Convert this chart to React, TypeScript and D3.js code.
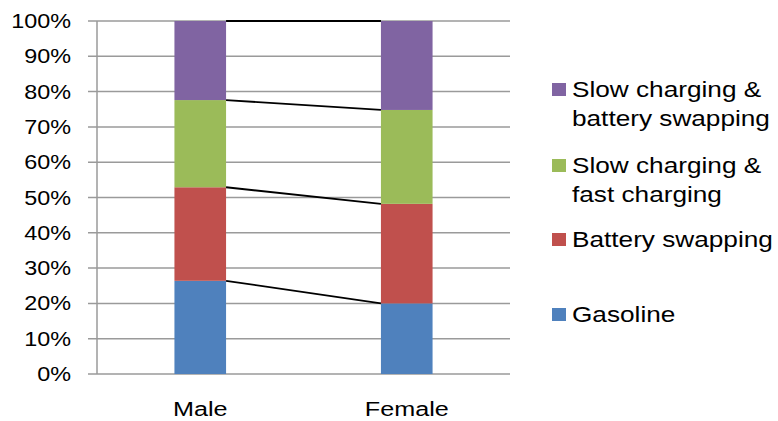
import React from "react";
import * as d3 from "d3";

const categories = ["Male", "Female"];
const seriesNames = [
  "Gasoline",
  "Battery swapping",
  "Slow charging & fast charging",
  "Slow charging & battery swapping",
];
const gasoline = [26.4, 20.0];
const batterySwapping = [26.5, 28.2];
const slowFast = [24.7, 26.6];
const slowSwap = [22.4, 25.2];
const yTicks = [0, 10, 20, 30, 40, 50, 60, 70, 80, 90, 100];
const colors = ["#4F81BD", "#C0504D", "#9BBB59", "#8064A2"];
const legendLines: string[][] = [
  ["Slow charging &", "battery swapping"],
  ["Slow charging &", "fast charging"],
  ["Battery swapping"],
  ["Gasoline"],
];

const W = 778;
const H = 421;
const plot = { left: 97, right: 510, top: 21, bottom: 374 };
const SX = 1.2;

export default function App() {
  const rows = categories.map((c, i) => ({
    cat: c,
    Gasoline: gasoline[i],
    "Battery swapping": batterySwapping[i],
    "Slow charging & fast charging": slowFast[i],
    "Slow charging & battery swapping": slowSwap[i],
  }));
  const stack = d3.stack<any>().keys(seriesNames)(rows);
  const x = d3
    .scaleBand()
    .domain(categories)
    .range([plot.left, plot.right])
    .paddingInner(0.75)
    .paddingOuter(0.375);
  const y = d3.scaleLinear().domain([0, 100]).range([plot.bottom, plot.top]);
  const bw = x.bandwidth();

  const m = x("Male")!;
  const f = x("Female")!;
  const connectorLevels = stack.map((s) => [s[0][1], s[1][1]]);

  const textFont = "'Liberation Sans', Arial, sans-serif";
  const legendBaselines = [[97, 126], [173, 202], [247], [322]];

  return (
    <svg
      width={W}
      height={H}
      style={{ position: "absolute", left: 0, top: 0, background: "#fff" }}
      fontFamily={textFont}
    >
      {/* gridlines */}
      {yTicks.map((t) => (
        <line
          key={"g" + t}
          x1={plot.left - 9}
          x2={plot.right}
          y1={y(t)}
          y2={y(t)}
          stroke="#9a9a9a"
          strokeWidth={1.5}
        />
      ))}
      <line
        x1={plot.left}
        x2={plot.left}
        y1={plot.top}
        y2={plot.bottom}
        stroke="#9a9a9a"
        strokeWidth={1.5}
      />
      {/* tick labels */}
      {yTicks.map((t) => (
        <text
          key={"t" + t}
          transform={`translate(71,${y(t) + 7}) scale(${SX},1)`}
          textAnchor="end"
          fontSize={19.5}
          fill="#000"
        >
          {t + "%"}
        </text>
      ))}
      {/* bars */}
      {stack.map((s, si) =>
        s.map((d, di) => (
          <rect
            key={si + "-" + di}
            x={x(categories[di])!}
            width={bw}
            y={y(d[1])}
            height={y(d[0]) - y(d[1])}
            fill={colors[si]}
          />
        ))
      )}
      {/* connectors */}
      {connectorLevels.map((lv, i) => (
        <line
          key={"c" + i}
          x1={m + bw}
          x2={f}
          y1={y(lv[0])}
          y2={y(lv[1])}
          stroke="#000"
          strokeWidth={1.8}
        />
      ))}
      {/* category labels */}
      {categories.map((c) => (
        <text
          key={c}
          transform={`translate(${x(c)! + bw / 2},416) scale(${SX},1)`}
          textAnchor="middle"
          fontSize={21}
          fill="#000"
        >
          {c}
        </text>
      ))}
      {/* legend */}
      {legendLines.map((lines, i) => (
        <g key={"l" + i}>
          <rect
            x={552}
            y={legendBaselines[i][0] - 14}
            width={14}
            height={13}
            fill={colors[3 - i]}
          />
          {lines.map((ln, j) => (
            <text
              key={j}
              transform={`translate(572,${legendBaselines[i][j]}) scale(1.23,1)`}
              fontSize={21.3}
              fill="#000"
            >
              {ln}
            </text>
          ))}
        </g>
      ))}
    </svg>
  );
}
